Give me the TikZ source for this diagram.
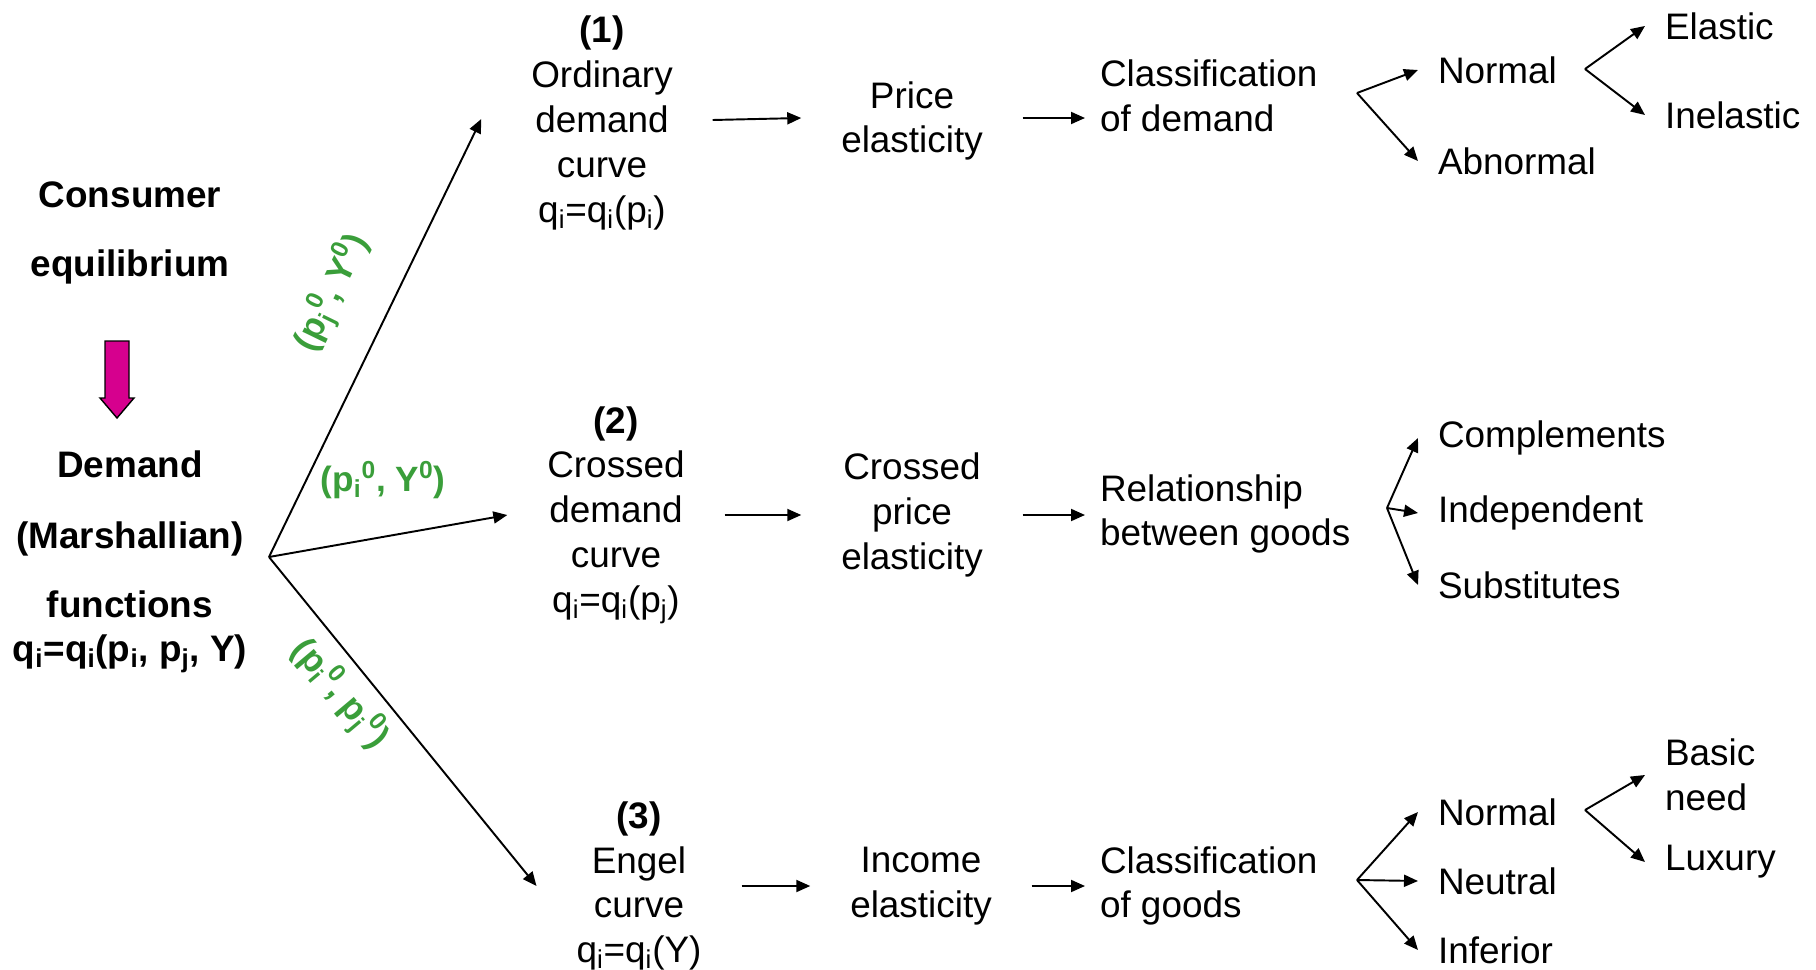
\documentclass[tikz,border=0pt]{standalone}
\usepackage{fontspec}
\setmainfont{Liberation Sans}
\usetikzlibrary{arrows.meta}
\definecolor{condgreen}{RGB}{58,158,58}
\definecolor{stepmagenta}{RGB}{214,0,142}
\begin{document}
\begin{tikzpicture}[x=0.02cm,y=-0.02cm,
		font=\fontsize{21}{25.5}\selectfont,
		arr/.style={-{Triangle[length=0.28cm,width=0.24cm]},line width=1.1pt},
		midtxt/.style={align=center,inner xsep=0pt,outer xsep=0.8cm},
		clstxt/.style={align=left,anchor=west,inner xsep=0pt,outer xsep=0.3cm},
		leaf/.style={align=left,anchor=west,inner sep=0pt,outer xsep=0.4cm},
		cond/.style={text=condgreen,font=\fontsize{20}{24}\selectfont\bfseries}]
				\useasboundingbox (0,0) rectangle (1816,970);
				\coordinate (fk) at (269,557);
				\coordinate (F1) at (1357,93);
				\coordinate (F2) at (1387,508);
				\coordinate (F3) at (1357,880);
				\coordinate (G1) at (1585,69);
				\coordinate (G3) at (1585,810);
				\node[font=\fontsize{21}{25.5}\selectfont\bfseries,align=center] (ceq) at (130,233) {Consumer\\[0.5cm]equilibrium};
				\node[font=\fontsize{21}{25.5}\selectfont\bfseries,align=center] (dem) at (130,562) {Demand\\[0.52cm](Marshallian)\\[0.48cm]functions\\q\textsubscript{i}=q\textsubscript{i}(p\textsubscript{i}, p\textsubscript{j}, Y)};
				\draw[fill=stepmagenta,line width=0.8pt] (105,341) -- (129,341) -- (129,398) -- (134,398) -- (117,418) -- (100,398) -- (105,398) -- cycle;
				\node[midtxt] (b1) at (602,123) {\textbf{(1)}\\Ordinary\\demand\\curve\\q\textsubscript{i}=q\textsubscript{i}(p\textsubscript{i})};
				\node[midtxt] (b2) at (616,515) {\textbf{(2)}\\Crossed\\demand\\curve\\q\textsubscript{i}=q\textsubscript{i}(p\textsubscript{j})};
				\node[midtxt] (b3) at (639,886) {\textbf{(3)}\\Engel\\curve\\q\textsubscript{i}=q\textsubscript{i}(Y)};
				\node[midtxt] (pel) at (912,121) {Price\\elasticity};
				\node[midtxt] (cel) at (912,515) {Crossed\\price\\elasticity};
				\node[midtxt] (iel) at (921,886) {Income\\elasticity};
				\node[clstxt] (cd) at (1085,96) {Classification\\of demand};
				\node[clstxt] (rg) at (1085,514) {Relationship\\between goods};
				\node[clstxt] (cg) at (1085,886) {Classification\\of goods};
				\node[leaf] (nrm1) at (1418,70) {Normal};
				\node[leaf] (abn) at (1418,161) {Abnormal};
				\node[leaf] (ela) at (1645,26) {Elastic};
				\node[leaf] (ine) at (1645,115) {Inelastic};
				\node[leaf] (cmp) at (1418,438) {Complements};
				\node[leaf] (ind) at (1418,513) {Independent};
				\node[leaf] (sub) at (1418,585) {Substitutes};
				\node[leaf] (nrm3) at (1418,812) {Normal};
				\node[leaf] (neu) at (1418,881) {Neutral};
				\node[leaf] (inf) at (1418,950) {Inferior};
				\node[leaf] (bas) at (1645,775) {Basic\\need};
				\node[leaf] (lux) at (1645,862) {Luxury};
				\node[cond,rotate=64] (c1) at (332,293) {(p\textsubscript{j}\textsuperscript{0}, Y\textsuperscript{0})};
				\node[cond] (c2) at (383,480) {(p\textsubscript{i}\textsuperscript{0}, Y\textsuperscript{0})};
				\node[cond,rotate=-50] (c3) at (340,694) {(p\textsubscript{i}\textsuperscript{0}, p\textsubscript{j}\textsuperscript{0})};
				\draw[arr] (fk) -- ([xshift=-0.2cm,yshift=0.08cm]b1.west);
				\draw[arr] (fk) -- (b2.west);
				\draw[arr] (fk) -- (b3.west);
				\draw[arr] ([yshift=0.06cm]b1.east) -- ([yshift=0.06cm]pel.west);
				\draw[arr] (b2) -- (cel);
				\draw[arr] (b3) -- (iel);
				\draw[arr] ([yshift=0.06cm]pel.east) -- ([yshift=0.06cm]pel.east -| cd.west);
				\draw[arr] (cel) -- (cel -| rg.west);
				\draw[arr] (iel) -- (iel -| cg.west);
				\draw[arr] (F1) -- (nrm1.west);
				\draw[arr] (F1) -- (abn.west);
				\draw[arr] (G1) -- (ela.west);
				\draw[arr] (G1) -- (ine.west);
				\draw[arr] (F2) -- (cmp.west);
				\draw[arr] (F2) -- (ind.west);
				\draw[arr] (F2) -- (sub.west);
				\draw[arr] (F3) -- (nrm3.west);
				\draw[arr] (F3) -- (neu.west);
				\draw[arr] (F3) -- (inf.west);
				\draw[arr] (G3) -- (bas.west);
				\draw[arr] (G3) -- (lux.west);
\end{tikzpicture}
\end{document}
